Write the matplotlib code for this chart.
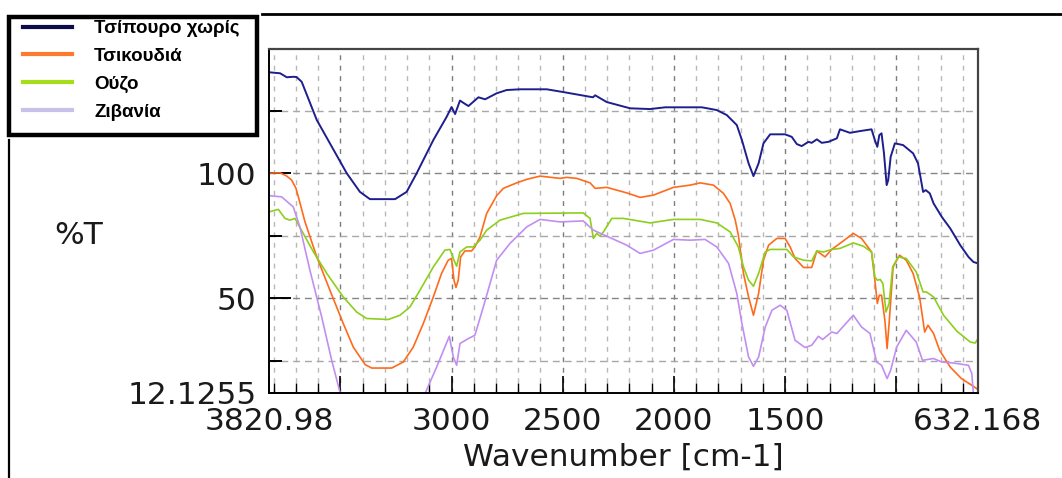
import matplotlib.pyplot as plt
from matplotlib.lines import Line2D
from matplotlib.patches import Rectangle

# FTIR spectra, wavenumber (cm-1) vs %T
wn_tsipouro = [3821, 3771, 3741, 3712, 3697, 3674, 3606, 3471, 3412, 3367, 3254, 3202,
               3157, 3082, 3022, 3000, 2984, 2962, 2947, 2924, 2879, 2849, 2797, 2752,
               2692, 2572, 2498, 2364, 2354, 2302, 2197, 2107, 2039, 1874, 1807, 1762,
               1717, 1694, 1664, 1642, 1619, 1597, 1567, 1500, 1470, 1447, 1425, 1395,
               1380, 1357, 1335, 1305, 1267, 1253, 1208, 1163, 1111, 1096, 1085, 1076,
               1066, 1055, 1043, 1036, 1025, 1006, 969, 924, 902, 879, 867, 849, 832,
               795, 757, 712, 675, 653, 632]
t_tsipouro = [140.3, 139.9, 138.3, 138.5, 138.4, 136.5, 121.2, 99.9, 92.5, 89.6, 89.6, 92.5,
              99.9, 113.2, 122.5, 126.4, 123.6, 129.0, 128.1, 126.8, 130.3, 129.5, 131.9, 133.2,
              133.5, 133.5, 132.4, 130.3, 131.1, 128.4, 125.9, 125.6, 126.3, 126.3, 125.2, 123.2,
              119.2, 113.2, 103.9, 98.8, 103.9, 111.9, 115.5, 115.5, 114.5, 111.6, 110.8, 112.5,
              112.1, 113.5, 112.1, 112.5, 113.9, 117.5, 116.1, 116.8, 117.5, 113.2, 110.5, 115.2,
              115.9, 107.9, 95.2, 97.2, 106.5, 111.9, 111.2, 107.9, 103.9, 92.5, 93.2, 91.9, 87.9,
              82.5, 77.9, 71.2, 66.5, 64.5, 63.9]

wn_tsikoudia = [3821, 3771, 3741, 3719, 3700, 3689, 3659, 3606, 3547, 3487, 3442, 3389,
                3359, 3269, 3217, 3172, 3127, 3082, 3045, 3015, 3000, 2989, 2980, 2970,
                2959, 2940, 2910, 2895, 2872, 2842, 2797, 2767, 2707, 2662, 2602, 2512,
                2482, 2437, 2377, 2354, 2302, 2212, 2152, 2092, 2002, 1927, 1882, 1822,
                1777, 1747, 1724, 1710, 1687, 1664, 1642, 1619, 1597, 1574, 1537, 1500,
                1477, 1455, 1417, 1380, 1357, 1320, 1290, 1253, 1193, 1156, 1111, 1096,
                1085, 1076, 1066, 1051, 1041, 1032, 1014, 985, 955, 924, 895, 872, 857,
                832, 805, 757, 707, 653, 632]
t_tsikoudia = [100.0, 100.1, 98.8, 97.2, 94.0, 90.5, 80.5, 66.5, 53.2, 39.9, 30.5, 23.5,
               22.1, 22.1, 24.5, 30.5, 39.9, 50.5, 59.9, 65.2, 65.9, 57.2, 54.3, 57.2,
               66.5, 68.9, 68.9, 70.5, 74.5, 83.9, 91.0, 93.9, 96.1, 97.5, 98.8, 97.9,
               98.3, 97.9, 96.1, 93.9, 94.3, 92.1, 90.3, 91.2, 94.3, 95.2, 96.1, 95.2,
               91.9, 87.9, 81.2, 75.2, 59.9, 50.5, 43.2, 51.9, 65.2, 71.2, 73.9, 73.9,
               70.5, 65.9, 62.3, 62.3, 68.9, 66.5, 69.5, 71.9, 75.9, 73.9, 68.5, 57.2,
               47.9, 51.2, 51.2, 41.2, 29.9, 39.9, 62.5, 67.2, 65.2, 59.9, 50.5, 36.5, 39.2,
               35.9, 29.2, 22.5, 17.9, 14.8, 13.5]

wn_ouzo = [3821, 3779, 3749, 3727, 3704, 3667, 3621, 3561, 3487, 3427, 3382, 3284,
           3232, 3187, 3142, 3082, 3030, 3007, 2989, 2977, 2962, 2932, 2902, 2872,
           2842, 2782, 2677, 2408, 2377, 2362, 2347, 2332, 2317, 2279, 2227, 2107,
           2002, 1882, 1807, 1747, 1710, 1687, 1664, 1642, 1619, 1589, 1567, 1492,
           1462, 1417, 1380, 1357, 1327, 1290, 1253, 1193, 1148, 1111, 1096, 1085,
           1072, 1060, 1046, 1032, 1016, 991, 955, 910, 879, 864, 832, 787, 727,
           667, 645, 632]
t_ouzo = [84.5, 85.5, 81.9, 81.2, 81.9, 75.9, 68.5, 59.9, 50.5, 44.5, 41.9, 41.5,
          43.2, 46.5, 53.2, 62.5, 69.2, 69.5, 65.2, 62.8, 68.5, 70.5, 70.5, 73.2,
          77.2, 81.2, 83.9, 84.1, 81.9, 73.9, 75.9, 74.8, 76.5, 81.9, 81.9, 80.1,
          81.5, 81.5, 80.1, 76.5, 70.5, 62.5, 57.2, 54.8, 59.9, 68.5, 69.5, 69.5,
          66.5, 65.2, 64.9, 68.9, 68.5, 69.5, 69.9, 72.1, 70.8, 68.5, 58.5, 57.2,
          57.5, 55.9, 44.5, 47.9, 62.5, 66.5, 65.9, 60.5, 52.5, 52.5, 50.5, 43.2, 36.8,
          32.5, 32.1, 33.9]

wn_zivania = [3821, 3764, 3712, 3682, 3637, 3584, 3539, 3502, 3480, 3140, 3119, 3067,
              3010, 2992, 2977, 2962, 2924, 2895, 2857, 2797, 2737, 2662, 2602, 2512,
              2408, 2362, 2302, 2212, 2152, 2092, 2002, 1927, 1860, 1807, 1754, 1717,
              1694, 1664, 1642, 1619, 1589, 1559, 1522, 1492, 1455, 1410, 1380, 1350,
              1331, 1290, 1267, 1193, 1156, 1118, 1088, 1066, 1041, 1025, 998, 955,
              910, 882, 832, 795, 743, 675, 660, 653, 640]
t_zivania = [91.0, 90.5, 86.5, 78.5, 61.2, 42.5, 25.2, 12.5, 5.0, 5.0, 11.9, 22.5,
             34.8, 26.5, 23.2, 31.9, 33.9, 35.2, 46.5, 65.2, 71.9, 78.5, 81.5, 80.5,
             80.9, 77.2, 74.8, 71.2, 67.9, 69.2, 73.5, 73.2, 73.5, 70.5, 63.9, 51.9,
             39.9, 26.5, 22.8, 26.5, 38.5, 45.2, 47.2, 45.2, 33.2, 30.3, 31.2, 34.8,
             33.5, 36.5, 35.9, 43.2, 38.5, 35.9, 24.5, 23.2, 17.9, 21.2, 30.5, 37.2,
             32.5, 25.2, 25.9, 24.5, 24.1, 23.2, 19.9, 11.9, 5.0]

labels = ["Τσίπουρο χωρίς", "Τσικουδιά", "Ούζο", "Ζιβανία"]
x_ticks = [3820.98, 3500, 3000, 2500, 2000, 1500, 1000, 632.168]
x_ticklabels = ["3820.98", "", "3000", "2500", "2000", "1500", "", "632.168"]
y_ticks = [12.1255, 50, 100]
y_ticklabels = ["12.1255", "50", "100"]

fig = plt.figure(figsize=(10.62, 4.78), dpi=100)
ax = fig.add_axes([269 / 1062, 85 / 478, 709 / 1062, 344 / 478])
ax.set_xlim(3820.98, 632.168)
ax.set_ylim(12.1255, 149.6)

# dashed grid
for g in range(700, 3900, 100):
    if g % 500 == 0:
        ax.axvline(g, color="#7c7c7c", lw=1.0, ls=(0, (3.5, 4)), zorder=0)
    else:
        ax.axvline(g, color="#b8b8b8", lw=1.0, ls=(0, (3.5, 4)), zorder=0)
for g in (25, 50, 75, 100, 125):
    c = "#858585" if g in (50, 100) else "#a8a8a8"
    ax.axhline(g, color=c, lw=1.0, ls=(0, (5, 3.5)), zorder=0)

l1, = ax.plot(wn_tsipouro, t_tsipouro, color="#1e1e8e", lw=1.4)
l2, = ax.plot(wn_tsikoudia, t_tsikoudia, color="#ff6a1c", lw=1.2)
l3, = ax.plot(wn_ouzo, t_ouzo, color="#8ccf1c", lw=1.2)
l4, = ax.plot(wn_zivania, t_zivania, color="#c28ef2", lw=1.2)

ax.set_xticks(x_ticks)
ax.set_xticklabels(x_ticklabels)
ax.set_xticks(range(700, 3900, 100), minor=True)
ax.set_yticks(y_ticks)
ax.set_yticklabels(y_ticklabels)
ax.set_yticks([25, 75, 125], minor=True)

ax.tick_params(axis="x", which="major", direction="in", length=12, width=1.2, pad=10,
               labelsize=22.5, labelcolor="#1a1a1a")
ax.tick_params(axis="x", which="minor", direction="in", length=7, width=1.0)
ax.tick_params(axis="y", which="major", direction="in", length=16, width=1.4, pad=9,
               labelsize=22.5, labelcolor="#1a1a1a")
ax.tick_params(axis="y", which="minor", direction="in", length=9, width=1.4)

for s in ("left", "bottom"):
    ax.spines[s].set_color("black")
    ax.spines[s].set_linewidth(1.4)
for s in ("top", "right"):
    ax.spines[s].set_color("#444444")
    ax.spines[s].set_linewidth(1.6)

fig.text(79 / 1062, 1 - 235 / 478, "%T", fontsize=22.5, color="#1a1a1a",
         ha="center", va="center")
fig.text(623 / 1062, 1 - 457 / 478, "Wavenumber [cm-1]", fontsize=22.5, color="#1a1a1a",
         ha="center", va="center")

# frame lines of the original screenshot
fig.add_artist(Line2D([262 / 1062, 1], [1 - 14 / 478, 1 - 14 / 478],
                      transform=fig.transFigure, color="black", lw=2))
fig.add_artist(Line2D([9 / 1062, 9 / 1062], [0, 1 - 140 / 478],
                      transform=fig.transFigure, color="black", lw=1.6))

# legend box
fig.add_artist(Rectangle((9 / 1062, 1 - 135 / 478), 248 / 1062, 118 / 478,
                         transform=fig.transFigure, fill=False, edgecolor="black",
                         lw=3.2, zorder=5))
leg = ax.legend([l1, l2, l3, l4], labels, loc="upper left", frameon=False,
                bbox_to_anchor=(23 / 1062, 1 - 20 / 478),
                bbox_transform=fig.transFigure, borderaxespad=0, borderpad=0,
                handlelength=2.6, handletextpad=1.2, labelspacing=0.57,
                prop={"family": "Liberation Sans", "weight": "bold", "size": 13.5})
for line, c in zip(leg.get_lines(), ["#0c0c4c", "#ff7a30", "#a6de1a", "#c9c1ea"]):
    line.set_color(c)
    line.set_linewidth(3)

fig.savefig("out.png", dpi=100)
